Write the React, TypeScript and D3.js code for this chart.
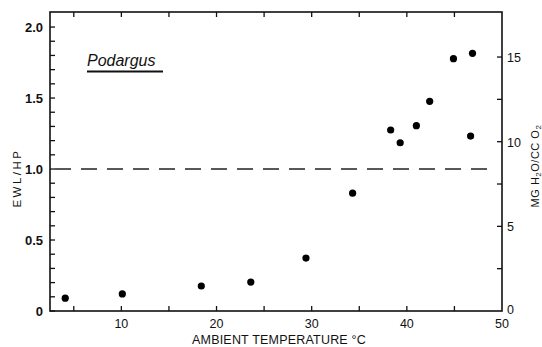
import React, { useRef, useEffect } from "react";
import * as d3 from "d3";

// ambient temperature (°C) and EWL/HP
const temps = [4.1, 10.1, 18.4, 23.6, 29.4, 34.3, 38.3, 39.3, 41.0, 42.4, 44.9, 46.9, 46.7];
const ewlhp = [0.09, 0.12, 0.176, 0.204, 0.373, 0.83, 1.275, 1.185, 1.305, 1.477, 1.777, 1.815, 1.232];

const xTicks = [10, 20, 30, 40, 50];
const leftTicks = [0, 0.5, 1.0, 1.5, 2.0];
const leftTickLabels = ["0", "0.5", "1.0", "1.5", "2.0"];
const rightTicks = [0, 5, 10, 15];
const refLine = 1.0;

const W = 542, H = 347;
const FONT = "'Liberation Sans', Arial, sans-serif";

export default function App() {
  const svgRef = useRef<SVGSVGElement>(null);

  useEffect(() => {
    const svg = d3.select(svgRef.current);
    svg.selectAll("*").remove();

    const left = 50, right = 502, top = 12, bottom = 311;

    const x = d3.scaleLinear().domain([2.5, 50]).range([left, right]);
    const y = d3.scaleLinear().domain([0, 2.106]).range([bottom, top]);
    const y2 = d3.scaleLinear().domain([0, 17.66]).range([bottom, top]);

    // frame
    svg.append("rect")
      .attr("x", left).attr("y", top)
      .attr("width", right - left).attr("height", bottom - top)
      .attr("fill", "none").attr("stroke", "#111").attr("stroke-width", 1.6);

    const ticks = svg.append("g").attr("stroke", "#111").attr("stroke-width", 1.3);

    // left ticks (inward), minor every 0.1
    d3.range(0, 2.05, 0.1).forEach(v => {
      ticks.append("line")
        .attr("x1", left).attr("x2", left + 5)
        .attr("y1", y(v)).attr("y2", y(v));
    });
    // bottom + top ticks every 5
    d3.range(5, 50, 5).forEach(v => {
      ticks.append("line")
        .attr("x1", x(v)).attr("x2", x(v))
        .attr("y1", bottom).attr("y2", bottom - 5);
      ticks.append("line")
        .attr("x1", x(v)).attr("x2", x(v))
        .attr("y1", top).attr("y2", top + 5);
    });
    // right ticks every 2.5
    d3.range(2.5, 17, 2.5).forEach(v => {
      ticks.append("line")
        .attr("x1", right).attr("x2", right - 5)
        .attr("y1", y2(v)).attr("y2", y2(v));
    });

    // tick labels
    svg.append("g").selectAll("text")
      .data(leftTicks)
      .join("text")
      .attr("x", left - 7)
      .attr("y", d => y(d) + 5)
      .attr("text-anchor", "end")
      .attr("font-family", FONT)
      .attr("font-size", 13)
      .attr("font-weight", "bold")
      .attr("fill", "#111")
      .text((d, i) => leftTickLabels[i]);

    svg.append("g").selectAll("text")
      .data(xTicks)
      .join("text")
      .attr("x", d => x(d))
      .attr("y", 328)
      .attr("text-anchor", "middle")
      .attr("font-family", FONT)
      .attr("font-size", 12.5)
      .attr("fill", "#111")
      .text(d => d);

    svg.append("g").selectAll("text")
      .data(rightTicks)
      .join("text")
      .attr("x", right + 5)
      .attr("y", d => d === 0 ? y2(d) + 3 : y2(d) + 5)
      .attr("font-family", FONT)
      .attr("font-size", 12.5)
      .attr("fill", "#111")
      .text(d => d);

    // dashed reference line
    svg.append("line")
      .attr("x1", x(2.5) + 5).attr("x2", x(50) - 5)
      .attr("y1", y(refLine)).attr("y2", y(refLine))
      .attr("stroke", "#222").attr("stroke-width", 1.3)
      .attr("stroke-dasharray", "16,10");

    // points
    svg.append("g").selectAll("circle")
      .data(temps.map((t, i) => [t, ewlhp[i]]))
      .join("circle")
      .attr("cx", d => x(d[0]))
      .attr("cy", d => y(d[1]))
      .attr("r", 3.6)
      .attr("fill", "#000");

    // axis titles
    svg.append("text")
      .attr("x", 279).attr("y", 344)
      .attr("text-anchor", "middle")
      .attr("font-family", FONT)
      .attr("font-size", 12.5)
      .attr("letter-spacing", 0.2)
      .attr("fill", "#111")
      .text("AMBIENT TEMPERATURE °C");

    svg.append("text")
      .attr("transform", "translate(21,178) rotate(-90)")
      .attr("text-anchor", "middle")
      .attr("font-family", FONT)
      .attr("font-size", 11.5)
      .attr("letter-spacing", 2.5)
      .attr("fill", "#111")
      .text("EWL/HP");

    const rt = svg.append("text")
      .attr("transform", "translate(539,166) rotate(-90)")
      .attr("text-anchor", "middle")
      .attr("font-family", FONT)
      .attr("font-size", 11)
      .attr("letter-spacing", 0.5)
      .attr("fill", "#111");
    rt.append("tspan").text("MG H");
    rt.append("tspan").attr("font-size", 8).attr("dy", 2).text("2");
    rt.append("tspan").attr("dy", -2).text("O/CC O");
    rt.append("tspan").attr("font-size", 8).attr("dy", 2).text("2");

    // species label
    svg.append("text")
      .attr("x", 87).attr("y", 66)
      .attr("font-family", FONT)
      .attr("font-size", 16)
      .attr("font-style", "italic")
      .attr("fill", "#111")
      .text("Podargus");
    svg.append("line")
      .attr("x1", 87).attr("x2", 163)
      .attr("y1", 71.5).attr("y2", 71.5)
      .attr("stroke", "#111").attr("stroke-width", 1.8);
  }, []);

  return (
    <svg
      ref={svgRef}
      width={W}
      height={H}
      style={{ position: "absolute", left: 0, top: 0, background: "#fff" }}
    />
  );
}
